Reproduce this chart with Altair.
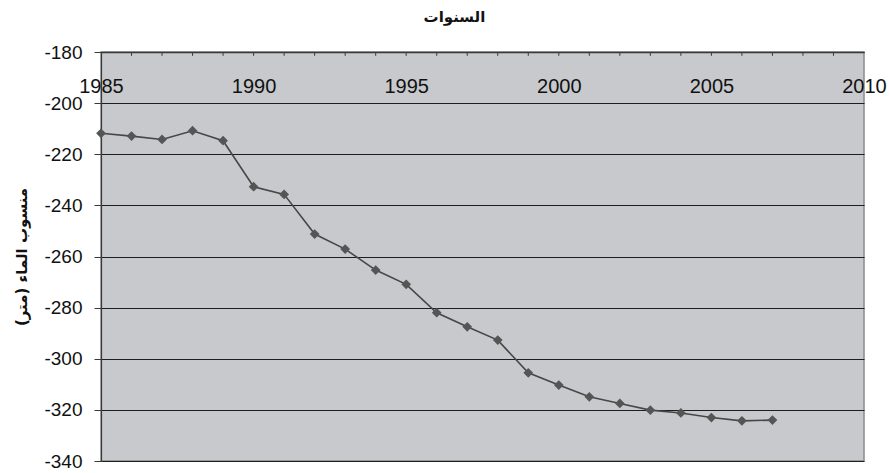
import altair as alt
import pandas as pd

# Water level series (metres), one reading per year
years = list(range(1985, 2008))
levels = [-211.8, -212.9, -214.2, -210.8, -214.7, -232.7, -235.7, -251.2,
          -257.1, -265.3, -270.9, -282.0, -287.5, -292.7, -305.5, -310.3,
          -314.9, -317.5, -320.1, -321.2, -323.0, -324.3, -324.0]

x_ticks = [1985, 1990, 1995, 2000, 2005, 2010]
minor_years = list(range(1986, 2010))
y_ticks = [-180, -200, -220, -240, -260, -280, -300, -320, -340]

x_title = "السنوات"
y_title = "منسوب الماء (متر)"

df = pd.DataFrame({"year": years, "level": levels})
minor = pd.DataFrame({"year": minor_years, "top": -180.0, "low": -181.5})

x_scale = alt.Scale(domain=[1985, 2010], nice=False, zero=False)
y_scale = alt.Scale(domain=[-340, -180], nice=False, zero=False)

x_axis = alt.Axis(
    orient="top", values=x_ticks, format="d", title=None,
    grid=False, ticks=False, domainColor="#3a3a3a", domainWidth=1.5,
    labelFont="Liberation Sans", labelFontSize=20, labelColor="#111111",
    labelPadding=-40, labelBaseline="alphabetic",
    labelFlush=False, labelOverlap=False,
)
y_axis = alt.Axis(
    values=y_ticks, title=y_title,
    labelExpr="datum.value < 0 ? '-' + abs(datum.value) : '' + datum.value",
    grid=True, gridColor="#1e1e1e", gridWidth=1,
    domainColor="#3a3a3a", domainWidth=1.2,
    tickColor="#3a3a3a", tickSize=7,
    labelFont="Liberation Sans", labelFontSize=19, labelColor="#111111",
    labelPadding=12,
    titleFont="DejaVu Sans", titleFontSize=15, titleFontWeight="bold",
    titleColor="#111111", titlePadding=14,
)

base = alt.Chart(df)

line = base.mark_line(color="#474747", strokeWidth=1.6).encode(
    x=alt.X("year:Q", scale=x_scale, axis=x_axis),
    y=alt.Y("level:Q", scale=y_scale, axis=y_axis),
)
points = base.mark_point(
    shape="diamond", filled=True, size=95, color="#555555", opacity=1
).encode(x="year:Q", y="level:Q")

minor_ticks = alt.Chart(minor).mark_rule(color="#3a3a3a", strokeWidth=1).encode(
    x="year:Q", y="top:Q", y2="low:Q"
)

chart = (
    alt.layer(minor_ticks, line, points)
    .properties(
        width=763, height=409,
        padding={"left": 101, "top": 52, "right": 25, "bottom": 12},
        autosize=alt.AutoSizeParams(type="none"),
        background="white",
        title=alt.TitleParams(
            x_title, font="DejaVu Sans", fontSize=15, fontWeight="bold",
            color="#111111", anchor="middle", dx=-28, offset=18,
        ),
    )
    .configure_view(fill="#c8c9cc", stroke="#8a8a8a", strokeWidth=1.5)
)

chart.save("out.html", embed_options={"renderer": "svg", "actions": False})
